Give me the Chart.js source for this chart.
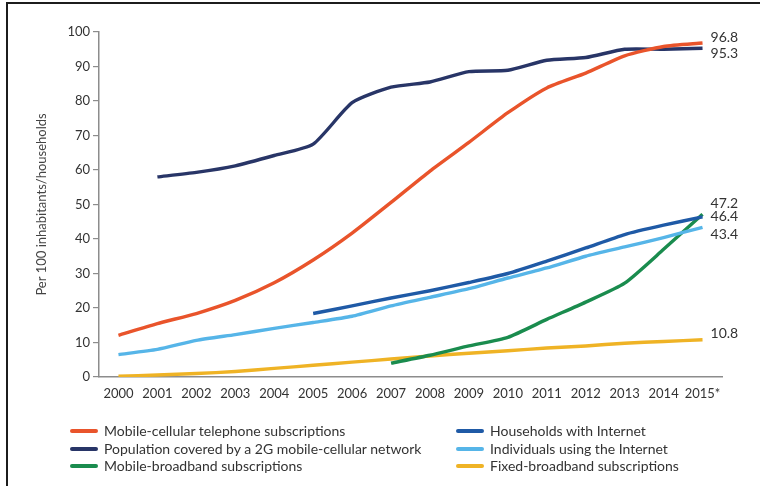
<!DOCTYPE html>
<html>
<head>
<meta charset="utf-8">
<script src="https://cdn.jsdelivr.net/npm/chart.js@4/dist/chart.umd.min.js"></script>
<style>
html,body{margin:0;padding:0;background:#fff;}
#wrap{position:relative;width:760px;height:486px;overflow:hidden;font-family:Lato,"Open Sans",sans-serif;}
#frame{position:absolute;left:6px;top:2px;width:900px;height:700px;border-top:2px solid #1c1c1c;border-left:2px solid #1c1c1c;}
#c{position:absolute;left:0;top:0;}
.item{position:absolute;display:flex;align-items:center;font-size:14px;color:#333;white-space:nowrap;height:17px;line-height:17px;}
.sw{width:28px;height:4px;border-radius:2px;margin-right:6px;}
</style>
</head>
<body>
<div id="wrap">
  <div id="frame"></div>
  <canvas id="c" width="760" height="486"></canvas>
  <div id="legend"></div>
</div>
<script>
const years = ['2000','2001','2002','2003','2004','2005','2006','2007','2008','2009','2010','2011','2012','2013','2014','2015*'];
const mobileCellular      = [12.1,15.5,18.4,22.2,27.3,33.9,41.7,50.6,59.7,68.0,76.6,83.8,88.1,93.1,95.8,96.8];
const population2G        = [null,58.0,59.3,61.2,64.2,67.5,79.5,84.0,85.5,88.5,88.9,91.8,92.6,95.0,95.0,95.3];
const householdsInternet  = [null,null,null,null,null,18.4,20.6,22.9,25.0,27.4,30.0,33.6,37.4,41.3,44.0,46.4];
const individualsInternet = [6.5,8.0,10.6,12.3,14.1,15.8,17.6,20.6,23.1,25.6,28.7,31.6,35.0,37.7,40.4,43.4];
const mobileBroadband     = [null,null,null,null,null,null,null,4.0,6.3,9.0,11.5,16.7,21.7,27.2,37.0,47.2];
const fixedBroadband      = [0.2,0.6,1.0,1.6,2.5,3.4,4.3,5.2,6.1,6.9,7.6,8.4,9.0,9.8,10.3,10.8];

const seriesNames = ['Mobile-cellular telephone subscriptions','Population covered by a 2G mobile-cellular network','Households with Internet','Individuals using the Internet','Mobile-broadband subscriptions','Fixed-broadband subscriptions'];
const seriesColors = ['#E9542B','#283567','#1F5AA6','#56B5E8','#1A8C4E','#EFB325'];
// vertical nudge (px) of the end-value labels so they don't overlap
const labelNudge = [-6,5,0,7,-11,-6];
// legend placement: [column, row]
const legendSlots = [[0,0],[0,1],[1,0],[1,1],[0,2],[1,2]];

const seriesData = [mobileCellular,population2G,householdsInternet,individualsInternet,mobileBroadband,fixedBroadband];

const datasets = seriesData.map((d,i)=>({
  label: seriesNames[i],
  data: d,
  borderColor: seriesColors[i],
  backgroundColor: seriesColors[i],
  borderWidth: 3.4,
  pointRadius: 0,
  tension: 0.2,
  fill: false,
  spanGaps: false,
  labelNudge: labelNudge[i]
}));

const endLabels = {
  id: 'endLabels',
  afterDatasetsDraw(chart){
    const ctx = chart.ctx;
    ctx.save();
    ctx.font = '14px Lato';
    ctx.fillStyle = '#333';
    ctx.textAlign = 'left';
    ctx.textBaseline = 'middle';
    chart.data.datasets.forEach((ds,i)=>{
      const meta = chart.getDatasetMeta(i);
      const n = ds.data.length - 1;
      const pt = meta.data[n];
      ctx.fillText(ds.data[n].toFixed(1), pt.x + 8, pt.y + ds.labelNudge);
    });
    ctx.restore();
  }
};

const font13 = {family:'Lato', size:13};
const chart = new Chart(document.getElementById('c'), {
  type: 'line',
  data: { labels: years, datasets },
  plugins: [endLabels],
  options: {
    responsive: false,
    animation: false,
    devicePixelRatio: 1,
    layout: { padding: { top: 32, right: 38, left: 0, bottom: 0 } },
    plugins: { legend: { display: false }, tooltip: { enabled: false } },
    scales: {
      x: {
        type: 'category',
        offset: true,
        grid: { display: false, drawTicks: false },
        border: { color: '#8c8c8c', width: 1.5 },
        ticks: { font: font13, color: '#333', maxRotation: 0, autoSkip: false, padding: 9 },
        afterFit(s){ s.height = 109; }
      },
      y: {
        min: 0, max: 100,
        ticks: { stepSize: 10, font: font13, color: '#333', padding: 3 },
        grid: { drawOnChartArea: false, drawTicks: true, tickLength: 6, color: '#8c8c8c', lineWidth: 1.2 },
        border: { color: '#8c8c8c', width: 1.5 },
        title: { display: true, text: 'Per 100 inhabitants/households', font: font13, color: '#444', padding: { top: 34, bottom: 0 } },
        afterFit(s){ s.width = 99; }
      }
    }
  }
});

// HTML legend built from the chart's datasets
const legend = document.getElementById('legend');
const colX = [70, 456];
const rowY = [422, 440, 457];
chart.data.datasets.forEach((ds,i)=>{
  const [c,r] = legendSlots[i];
  const el = document.createElement('div');
  el.className = 'item';
  el.style.left = colX[c] + 'px';
  el.style.top = rowY[r] + 'px';
  const sw = document.createElement('span');
  sw.className = 'sw';
  sw.style.background = ds.borderColor;
  const tx = document.createElement('span');
  tx.textContent = ds.label;
  el.appendChild(sw); el.appendChild(tx);
  legend.appendChild(el);
});
</script>
</body>
</html>
